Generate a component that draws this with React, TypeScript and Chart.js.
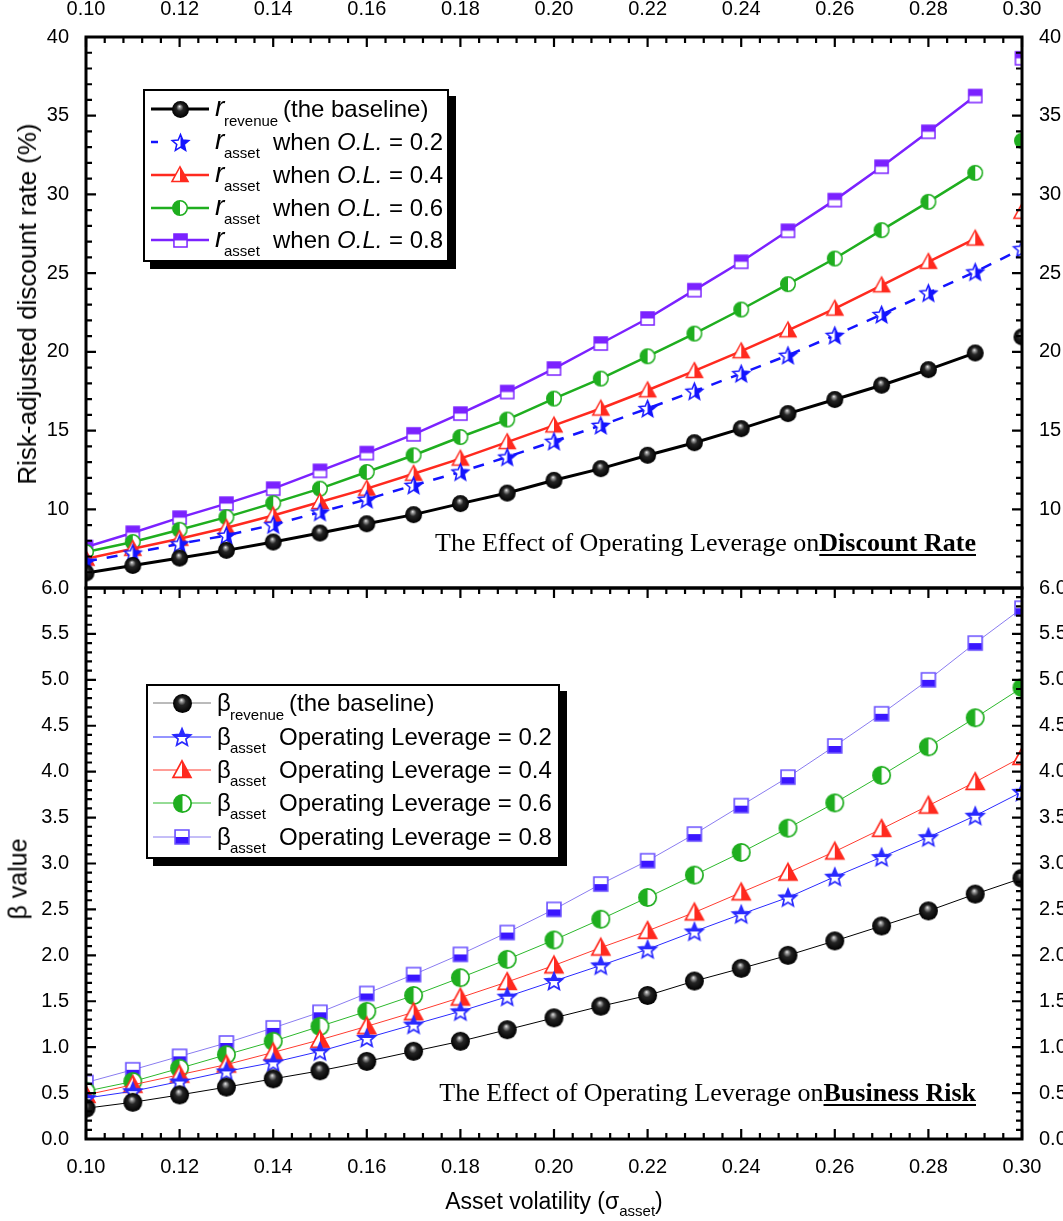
import React, { useEffect, useMemo, useRef } from 'react';
import { Chart, registerables } from 'chart.js';

Chart.register(...registerables);

// ---------------- data ----------------
const sigmaAsset = [0.10, 0.11, 0.12, 0.13, 0.14, 0.15, 0.16, 0.17, 0.18, 0.19, 0.20, 0.21, 0.22, 0.23, 0.24, 0.25, 0.26, 0.27, 0.28, 0.29, 0.30];

// top panel: risk-adjusted discount rate (%)
const rRevenue = [5.95, 6.43, 6.90, 7.39, 7.92, 8.49, 9.08, 9.66, 10.36, 11.03, 11.84, 12.58, 13.43, 14.23, 15.12, 16.08, 16.97, 17.88, 18.87, 19.93, 20.95];
const rAssetOL02 = [6.69, 7.22, 7.81, 8.34, 9.02, 9.82, 10.63, 11.52, 12.37, 13.32, 14.32, 15.33, 16.40, 17.50, 18.62, 19.78, 21.05, 22.37, 23.74, 25.08, 26.55];
const rAssetOL04 = [6.86, 7.49, 8.13, 8.83, 9.61, 10.46, 11.31, 12.26, 13.22, 14.27, 15.33, 16.40, 17.56, 18.79, 20.04, 21.37, 22.75, 24.23, 25.72, 27.20, 28.90];
const rAssetOL06 = [7.28, 7.92, 8.70, 9.50, 10.39, 11.31, 12.37, 13.43, 14.59, 15.70, 17.03, 18.30, 19.72, 21.16, 22.69, 24.30, 25.93, 27.73, 29.53, 31.37, 33.41];
const rAssetOL08 = [7.60, 8.51, 9.47, 10.36, 11.31, 12.44, 13.57, 14.76, 16.08, 17.45, 18.94, 20.53, 22.12, 23.92, 25.72, 27.69, 29.64, 31.76, 33.98, 36.25, 38.65];

// bottom panel: beta value
const betaRevenue = [0.335, 0.40, 0.48, 0.565, 0.655, 0.743, 0.845, 0.955, 1.064, 1.19, 1.319, 1.446, 1.563, 1.72, 1.858, 2.0, 2.157, 2.32, 2.484, 2.667, 2.84];
const betaAssetOL02 = [0.445, 0.52, 0.626, 0.736, 0.834, 0.955, 1.10, 1.246, 1.39, 1.55, 1.72, 1.89, 2.066, 2.26, 2.448, 2.63, 2.856, 3.07, 3.286, 3.52, 3.78];
const betaAssetOL04 = [0.48, 0.59, 0.70, 0.81, 0.943, 1.08, 1.227, 1.38, 1.54, 1.71, 1.89, 2.084, 2.266, 2.467, 2.685, 2.90, 3.13, 3.377, 3.63, 3.887, 4.16];
const betaAssetOL06 = [0.52, 0.626, 0.77, 0.918, 1.064, 1.227, 1.39, 1.563, 1.756, 1.956, 2.167, 2.393, 2.63, 2.874, 3.12, 3.385, 3.66, 3.96, 4.27, 4.587, 4.915];
const betaAssetOL08 = [0.615, 0.754, 0.90, 1.046, 1.21, 1.38, 1.585, 1.79, 2.01, 2.248, 2.50, 2.776, 3.03, 3.32, 3.63, 3.94, 4.28, 4.63, 5.0, 5.40, 5.78];

const operatingLeverage = ['0.2', '0.4', '0.6', '0.8'];

// axes
const xTickValues = [0.10, 0.12, 0.14, 0.16, 0.18, 0.20, 0.22, 0.24, 0.26, 0.28, 0.30];
const rateTickValues = [10, 15, 20, 25, 30, 35, 40];
const betaTickValues = [0.0, 0.5, 1.0, 1.5, 2.0, 2.5, 3.0, 3.5, 4.0, 4.5, 5.0, 5.5, 6.0];
const X_MIN = 0.1, X_MAX = 0.3, X_MINOR = 0.004;
const RATE_MIN = 5, RATE_MAX = 40, RATE_MINOR = 1;
const BETA_MIN = 0, BETA_MAX = 6, BETA_MINOR = 0.1;
const MINORS_PER_MAJOR = 5;

// ---------------- styles ----------------
const SANS = "'Liberation Sans', Arial, Helvetica, sans-serif";
const SERIF = "'Liberation Serif', 'Times New Roman', Times, serif";

const C_BLACK = '#000000';
const C_BLUE = '#1414ff';
const C_RED = '#ff2a1f';
const C_GREEN = '#1fae1f';
const C_PURPLE = '#7b22ff';
const C_BLUE_B = '#2a2aff';
const C_RED_B = '#ff3b2f';
const C_GREEN_B = '#2cb82c';
const C_LAV_B = '#8a7cf0';
const C_SQ_B = '#3a16ff';

// ---------------- markers ----------------
type Half = 'left' | 'right' | 'top' | 'bottom';
type Shape = 'star' | 'triangle' | 'circle' | 'square';

function mkCanvas(s: number) {
  const c = document.createElement('canvas');
  c.width = s;
  c.height = s;
  return c;
}

function sphere(d: number) {
  const c = mkCanvas(d + 2);
  const ctx = c.getContext('2d')!;
  const r = d / 2, cx = c.width / 2, cy = c.height / 2;
  const g = ctx.createRadialGradient(cx - r * 0.12, cy - r * 0.38, 0, cx, cy, r);
  g.addColorStop(0, '#f4f4f4');
  g.addColorStop(0.16, '#9a9a9a');
  g.addColorStop(0.42, '#252525');
  g.addColorStop(1, '#000000');
  ctx.fillStyle = g;
  ctx.beginPath();
  ctx.arc(cx, cy, r, 0, Math.PI * 2);
  ctx.fill();
  return c;
}

function halfMarker(shape: Shape, stroke: string, fill: string, size: number, half: Half, lw = 1.6) {
  const pad = 2;
  const S = Math.ceil(size + pad * 2);
  const c = mkCanvas(S);
  const ctx = c.getContext('2d')!;
  const cx = S / 2, cy = S / 2, R = size / 2;
  const path = () => {
    ctx.beginPath();
    if (shape === 'circle') {
      ctx.arc(cx, cy, R - lw / 2, 0, Math.PI * 2);
    } else if (shape === 'square') {
      const a = size * 0.86 - lw;
      ctx.rect(cx - a / 2, cy - a / 2, a, a);
    } else if (shape === 'triangle') {
      const h = R - lw / 2;
      ctx.moveTo(cx, cy - h);
      ctx.lineTo(cx + h * 0.98, cy + h * 0.8);
      ctx.lineTo(cx - h * 0.98, cy + h * 0.8);
      ctx.closePath();
    } else {
      const ro = R - lw / 2, ri = ro * 0.45;
      const yc = cy + R * 0.08;
      for (let k = 0; k < 10; k++) {
        const ang = -Math.PI / 2 + (k * Math.PI) / 5;
        const rr = k % 2 === 0 ? ro : ri;
        const px = cx + rr * Math.cos(ang), py = yc + rr * Math.sin(ang);
        if (k === 0) ctx.moveTo(px, py); else ctx.lineTo(px, py);
      }
      ctx.closePath();
    }
  };
  path();
  ctx.fillStyle = '#ffffff';
  ctx.fill();
  ctx.save();
  ctx.beginPath();
  if (half === 'left') ctx.rect(0, 0, cx, S);
  else if (half === 'right') ctx.rect(cx, 0, S - cx, S);
  else if (half === 'top') ctx.rect(0, 0, S, cy);
  else ctx.rect(0, cy, S, S - cy);
  ctx.clip();
  path();
  ctx.fillStyle = fill;
  ctx.fill();
  ctx.restore();
  path();
  ctx.strokeStyle = stroke;
  ctx.lineWidth = lw;
  ctx.lineJoin = 'miter';
  ctx.stroke();
  return c;
}

function buildMarkers() {
  return {
    top: {
      sphere: sphere(17),
      star: halfMarker('star', C_BLUE, C_BLUE, 19, 'right', 1.5),
      tri: halfMarker('triangle', C_RED, C_RED, 18, 'right', 1.5),
      circ: halfMarker('circle', C_GREEN, C_GREEN, 16, 'left', 1.5),
      sq: halfMarker('square', C_PURPLE, C_PURPLE, 17, 'top', 1.5),
    },
    bot: {
      sphere: sphere(19),
      star: halfMarker('star', C_BLUE_B, C_BLUE_B, 20, 'top', 1.7),
      tri: halfMarker('triangle', C_RED, C_RED, 20, 'right', 1.7),
      circ: halfMarker('circle', C_GREEN, C_GREEN, 19, 'left', 1.7),
      sq: halfMarker('square', '#6a50ff', C_SQ_B, 18, 'bottom', 1.6),
    },
  };
}

function legendIcon(color: string, lw: number, dash: number[] | null, marker: HTMLCanvasElement) {
  const w = 58, h = 30;
  const c = document.createElement('canvas');
  c.width = w;
  c.height = h;
  const ctx = c.getContext('2d')!;
  ctx.strokeStyle = color;
  ctx.lineWidth = lw;
  if (dash) ctx.setLineDash(dash);
  ctx.beginPath();
  ctx.moveTo(0, h / 2);
  ctx.lineTo(w, h / 2);
  ctx.stroke();
  ctx.setLineDash([]);
  ctx.drawImage(marker, Math.round(w / 2 - marker.width / 2), Math.round(h / 2 - marker.height / 2));
  return c.toDataURL();
}

// ---------------- frame & inner ticks plugin ----------------
const frameTicksPlugin = {
  id: 'frameTicks',
  afterDatasetsDraw(chart: any) {
    const { ctx, chartArea } = chart;
    const xs = chart.scales.xBot;
    const L = chartArea.left, R = chartArea.right;
    const drawPanel = (ys: any, yMin: number, yMax: number, yMinor: number, ticksTop: boolean, ticksBottom: boolean) => {
      const T = ys.top, B = ys.bottom;
      ctx.save();
      ctx.strokeStyle = '#000';
      ctx.lineWidth = 2.2;
      const nx = Math.round((X_MAX - X_MIN) / X_MINOR);
      for (let i = 0; i <= nx; i++) {
        const px = xs.getPixelForValue(X_MIN + i * X_MINOR);
        const len = i % MINORS_PER_MAJOR === 0 ? 10 : 6;
        ctx.beginPath();
        if (ticksTop) { ctx.moveTo(px, T); ctx.lineTo(px, T + len); }
        if (ticksBottom) { ctx.moveTo(px, B); ctx.lineTo(px, B - len); }
        ctx.stroke();
      }
      const ny = Math.round((yMax - yMin) / yMinor);
      for (let j = 0; j <= ny; j++) {
        const py = ys.getPixelForValue(yMin + j * yMinor);
        const len = j % MINORS_PER_MAJOR === 0 ? 10 : 6;
        ctx.beginPath();
        ctx.moveTo(L, py); ctx.lineTo(L + len, py);
        ctx.moveTo(R, py); ctx.lineTo(R - len, py);
        ctx.stroke();
      }
      ctx.lineWidth = 3;
      ctx.strokeRect(L, T, R - L, B - T);
      ctx.restore();
    };
    drawPanel(chart.scales.yTop, RATE_MIN, RATE_MAX, RATE_MINOR, true, false);
    drawPanel(chart.scales.yBot, BETA_MIN, BETA_MAX, BETA_MINOR, true, true);
  },
};

const pts = (ys: number[]) => sigmaAsset.map((x, i) => ({ x, y: ys[i] }));
const hideLastSegment = {
  borderColor: (c: any) => (c.p1DataIndex === sigmaAsset.length - 1 ? 'rgba(0,0,0,0)' : undefined),
};

function buildConfig(m: ReturnType<typeof buildMarkers>): any {
  const tickFont = { family: SANS, size: 20 };
  const xScale = (position: 'top' | 'bottom', h: number) => ({
    type: 'linear',
    position,
    min: X_MIN,
    max: X_MAX,
    grid: { display: false },
    border: { display: false },
    afterBuildTicks: (s: any) => { s.ticks = xTickValues.map((v) => ({ value: v })); },
    afterFit: (s: any) => { s.height = h; },
    ticks: { font: tickFont, color: '#000', padding: 8, maxRotation: 0, autoSkip: false, callback: (v: any) => Number(v).toFixed(2) },
  });
  const yScale = (position: 'left' | 'right', stack: string, min: number, max: number, vals: number[], digits: number, w: number) => ({
    type: 'linear',
    position,
    stack,
    stackWeight: 1,
    min,
    max,
    grid: { display: false },
    border: { display: false },
    afterBuildTicks: (s: any) => { s.ticks = vals.map((v) => ({ value: v })); },
    afterFit: (s: any) => { s.width = w; },
    ticks: { font: tickFont, color: '#000', padding: 9, autoSkip: false, callback: (v: any) => Number(v).toFixed(digits) },
  });
  const base = { tension: 0, pointRadius: 8, pointHoverRadius: 8, clip: 0, fill: false };
  return {
    type: 'line',
    data: {
      datasets: [
        { ...base, label: 'r revenue', data: pts(rRevenue), xAxisID: 'xTop', yAxisID: 'yTop', borderColor: C_BLACK, borderWidth: 3, pointStyle: m.top.sphere, segment: hideLastSegment },
        { ...base, label: 'r asset O.L.=0.2', data: pts(rAssetOL02), xAxisID: 'xTop', yAxisID: 'yTop', borderColor: C_BLUE, borderWidth: 2.5, borderDash: [11, 10], pointStyle: m.top.star },
        { ...base, label: 'r asset O.L.=0.4', data: pts(rAssetOL04), xAxisID: 'xTop', yAxisID: 'yTop', borderColor: C_RED, borderWidth: 2.5, pointStyle: m.top.tri, segment: hideLastSegment },
        { ...base, label: 'r asset O.L.=0.6', data: pts(rAssetOL06), xAxisID: 'xTop', yAxisID: 'yTop', borderColor: C_GREEN, borderWidth: 2.5, pointStyle: m.top.circ, segment: hideLastSegment },
        { ...base, label: 'r asset O.L.=0.8', data: pts(rAssetOL08), xAxisID: 'xTop', yAxisID: 'yTop', borderColor: C_PURPLE, borderWidth: 2.5, pointStyle: m.top.sq, segment: hideLastSegment },
        { ...base, label: 'beta revenue', data: pts(betaRevenue), xAxisID: 'xBot', yAxisID: 'yBot', borderColor: C_BLACK, borderWidth: 1, pointStyle: m.bot.sphere },
        { ...base, label: 'beta asset OL 0.2', data: pts(betaAssetOL02), xAxisID: 'xBot', yAxisID: 'yBot', borderColor: C_BLUE_B, borderWidth: 1, pointStyle: m.bot.star },
        { ...base, label: 'beta asset OL 0.4', data: pts(betaAssetOL04), xAxisID: 'xBot', yAxisID: 'yBot', borderColor: C_RED_B, borderWidth: 1, pointStyle: m.bot.tri },
        { ...base, label: 'beta asset OL 0.6', data: pts(betaAssetOL06), xAxisID: 'xBot', yAxisID: 'yBot', borderColor: C_GREEN_B, borderWidth: 1, pointStyle: m.bot.circ },
        { ...base, label: 'beta asset OL 0.8', data: pts(betaAssetOL08), xAxisID: 'xBot', yAxisID: 'yBot', borderColor: C_LAV_B, borderWidth: 1, pointStyle: m.bot.sq },
      ],
    },
    options: {
      responsive: false,
      animation: false,
      events: [],
      layout: { padding: 0 },
      plugins: { legend: { display: false }, tooltip: { enabled: false }, title: { display: false } },
      // left-side stacked boxes are laid out in reverse order, so yBot is declared before yTop
      scales: {
        xTop: xScale('top', 37),
        xBot: xScale('bottom', 82),
        yBot: yScale('left', 'L', BETA_MIN, BETA_MAX, betaTickValues, 1, 86),
        yTop: yScale('left', 'L', RATE_MIN, RATE_MAX, rateTickValues, 0, 86),
        yTopR: yScale('right', 'R', RATE_MIN, RATE_MAX, rateTickValues, 0, 41),
        yBotR: yScale('right', 'R', BETA_MIN, BETA_MAX, betaTickValues, 1, 41),
      },
    },
    plugins: [frameTicksPlugin],
  };
}

// ---------------- text helpers ----------------
function Txt(props: { x: number; b: number; size: number; children: any; italic?: boolean; font?: string; bold?: boolean }) {
  const { x, b, size, children, italic, font = SANS, bold } = props;
  return (
    <div
      style={{
        position: 'absolute',
        left: x,
        top: b - 0.85 * size,
        fontSize: size,
        lineHeight: `${size}px`,
        fontFamily: font,
        fontStyle: italic ? 'italic' : 'normal',
        fontWeight: bold ? 'bold' : 'normal',
        whiteSpace: 'nowrap',
        color: '#000',
      }}
    >
      {children}
    </div>
  );
}

const legendBox = (left: number, top: number, width: number, height: number): React.CSSProperties => ({
  position: 'absolute',
  left,
  top,
  width,
  height,
  boxSizing: 'border-box',
  border: '2px solid #000',
  background: '#fff',
  boxShadow: '7px 7px 0 #000',
});

export default function App() {
  const canvasRef = useRef<HTMLCanvasElement>(null);
  const markers = useMemo(() => buildMarkers(), []);
  const icons = useMemo(
    () => ({
      top: [
        legendIcon(C_BLACK, 3, null, markers.top.sphere),
        legendIcon(C_BLUE, 2.5, [7, 80], markers.top.star),
        legendIcon(C_RED, 2.5, null, markers.top.tri),
        legendIcon(C_GREEN, 2.5, null, markers.top.circ),
        legendIcon(C_PURPLE, 2.5, null, markers.top.sq),
      ],
      bot: [
        legendIcon('#777', 1, null, markers.bot.sphere),
        legendIcon(C_BLUE_B, 1, null, markers.bot.star),
        legendIcon(C_RED_B, 1, null, markers.bot.tri),
        legendIcon(C_GREEN_B, 1, null, markers.bot.circ),
        legendIcon(C_LAV_B, 1, null, markers.bot.sq),
      ],
    }),
    [markers]
  );

  useEffect(() => {
    const chart = new Chart(canvasRef.current as HTMLCanvasElement, buildConfig(markers));
    return () => chart.destroy();
  }, [markers]);

  const topRows = [109, 142, 175, 208, 240];
  const botRows = [703, 737, 770, 803, 837];

  return (
    <div style={{ position: 'absolute', left: 0, top: 0, width: 1063, height: 1221, background: '#fff', overflow: 'hidden' }}>
      <canvas ref={canvasRef} width={1063} height={1221} style={{ position: 'absolute', left: 0, top: 0, width: 1063, height: 1221 }} />

      {/* axis titles */}
      <div
        style={{
          position: 'absolute', left: 27, top: 304, transform: 'translate(-50%, -50%) rotate(-90deg)',
          fontFamily: SANS, fontSize: 26, lineHeight: '26px', whiteSpace: 'nowrap', color: '#000',
        }}
      >
        Risk-adjusted discount rate (%)
      </div>
      <div
        style={{
          position: 'absolute', left: 18, top: 879, transform: 'translate(-50%, -50%) rotate(-90deg)',
          fontFamily: SANS, fontSize: 25, lineHeight: '25px', whiteSpace: 'nowrap', color: '#000',
        }}
      >
        β value
      </div>
      <div
        style={{
          position: 'absolute', left: 554, top: 1210 - 0.85 * 23, transform: 'translateX(-50%)',
          fontFamily: SANS, fontSize: 23, lineHeight: '23px', whiteSpace: 'nowrap', color: '#000',
        }}
      >
        Asset volatility (σ<span style={{ fontSize: 15, position: 'relative', top: 7 }}>asset</span>)
      </div>

      {/* annotations */}
      <div style={{ position: 'absolute', left: 0, width: 976, top: 552 - 0.84 * 26, textAlign: 'right', fontFamily: SERIF, fontSize: 26, lineHeight: '26px', whiteSpace: 'nowrap', color: '#000' }}>
        The Effect of Operating Leverage on
        <span style={{ fontWeight: 'bold', textDecoration: 'underline', textDecorationThickness: '2px', textUnderlineOffset: '3px' }}>Discount Rate</span>
      </div>
      <div style={{ position: 'absolute', left: 0, width: 976, top: 1102 - 0.84 * 26, textAlign: 'right', fontFamily: SERIF, fontSize: 26, lineHeight: '26px', whiteSpace: 'nowrap', color: '#000' }}>
        The Effect of Operating Leverage on
        <span style={{ fontWeight: 'bold', textDecoration: 'underline', textDecorationThickness: '2px', textUnderlineOffset: '3px' }}>Business Risk</span>
      </div>

      {/* top legend */}
      <div style={legendBox(143, 89, 306, 173)} />
      {topRows.map((c, i) => (
        <img key={'ti' + i} src={icons.top[i]} width={58} height={30} style={{ position: 'absolute', left: 151, top: c - 15 }} />
      ))}
      {topRows.map((c, i) => (
        <React.Fragment key={'tt' + i}>
          <Txt x={215} b={c + 8} size={28} italic>r</Txt>
          <Txt x={224} b={c + (i === 0 ? 17 : 16)} size={15}>{i === 0 ? 'revenue' : 'asset'}</Txt>
          {i === 0 ? (
            <Txt x={283} b={c + 8} size={24}>(the baseline)</Txt>
          ) : (
            <Txt x={273} b={c + 8} size={24}>
              when <i>O.L.</i> = {operatingLeverage[i - 1]}
            </Txt>
          )}
        </React.Fragment>
      ))}

      {/* bottom legend */}
      <div style={legendBox(146, 684, 414, 175)} />
      {botRows.map((c, i) => (
        <img key={'bi' + i} src={icons.bot[i]} width={58} height={30} style={{ position: 'absolute', left: 153, top: c - 15 }} />
      ))}
      {botRows.map((c, i) => (
        <React.Fragment key={'bt' + i}>
          <Txt x={217} b={c + 8} size={24}>β</Txt>
          <Txt x={230} b={c + (i === 0 ? 17 : 16)} size={15}>{i === 0 ? 'revenue' : 'asset'}</Txt>
          {i === 0 ? (
            <Txt x={289} b={c + 8} size={24}>(the baseline)</Txt>
          ) : (
            <Txt x={279} b={c + 8} size={24}>Operating Leverage = {operatingLeverage[i - 1]}</Txt>
          )}
        </React.Fragment>
      ))}
    </div>
  );
}
